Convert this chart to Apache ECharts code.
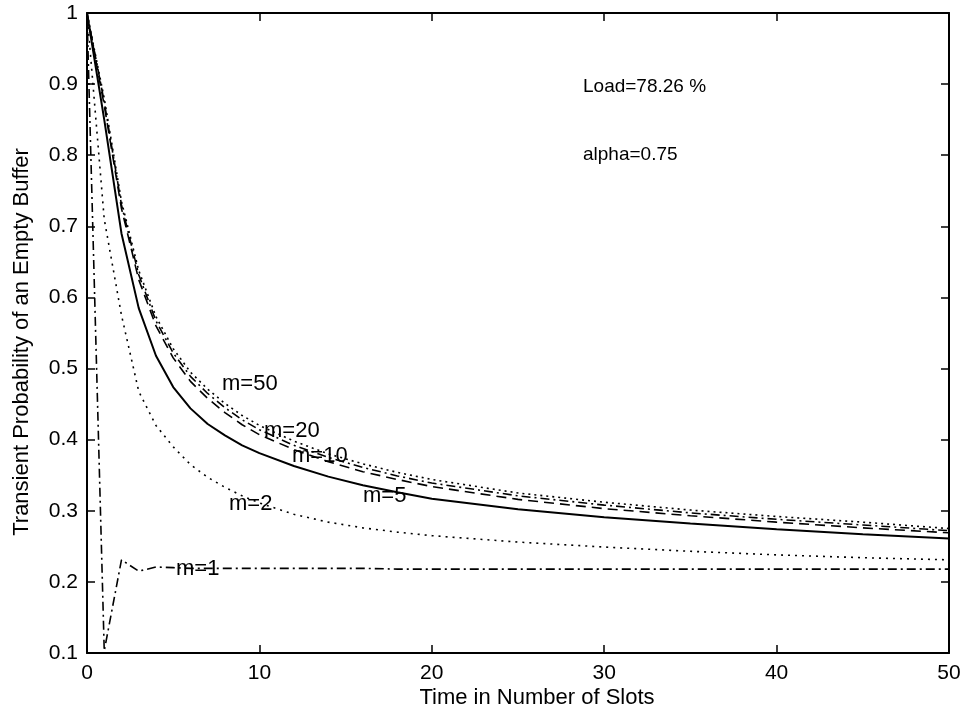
<!DOCTYPE html>
<html><head><meta charset="utf-8">
<script src="https://cdn.jsdelivr.net/npm/echarts@6/dist/echarts.min.js"></script>
<style>html,body{margin:0;padding:0;background:#fff}#c{width:979px;height:719px}</style>
</head><body><div id="c"></div>
<script>
// ---- data ----
const times = [0,1,2,3,4,5,6,7,8,9,10,12,14,16,18,20,25,30,35,40,45,50];
const m1  = [1,0.103,0.231,0.215,0.221,0.220,0.219,0.219,0.219,0.219,0.219,0.219,0.219,0.219,0.218,0.218,0.218,0.218,0.218,0.218,0.218,0.218];
const m2  = [1,0.710,0.575,0.468,0.420,0.390,0.365,0.347,0.333,0.321,0.311,0.295,0.284,0.276,0.270,0.265,0.256,0.249,0.243,0.238,0.234,0.231];
const m5  = [1,0.850,0.690,0.585,0.518,0.474,0.444,0.422,0.406,0.392,0.381,0.363,0.348,0.336,0.326,0.317,0.302,0.291,0.282,0.274,0.267,0.261];
const m10 = [1,0.870,0.725,0.625,0.560,0.515,0.482,0.458,0.438,0.421,0.407,0.386,0.369,0.355,0.344,0.334,0.316,0.303,0.293,0.284,0.276,0.269];
const m20 = [1,0.875,0.730,0.632,0.567,0.522,0.489,0.465,0.445,0.428,0.414,0.392,0.375,0.361,0.349,0.339,0.321,0.308,0.297,0.288,0.280,0.272];
const m50 = [1,0.880,0.735,0.638,0.573,0.528,0.495,0.471,0.451,0.434,0.420,0.398,0.380,0.366,0.354,0.344,0.325,0.312,0.301,0.292,0.284,0.275];
const seriesNames = ['m=1','m=2','m=5','m=10','m=20','m=50'];
const xLabelText = 'Time in Number of Slots';
const yLabelText = 'Transient Probability of an Empty Buffer';
const noteLoad = 'Load=78.26 %';
const noteAlpha = 'alpha=0.75';

const FONT = '"Liberation Sans", Arial, Helvetica, sans-serif';
const pairs = ys => times.map((t, i) => [t, ys[i]]);
const fmt = v => String(parseFloat(Number(v).toFixed(2)));

const axisLine = {show: true, onZero: false, lineStyle: {color: '#000', width: 2}};
const tick = {show: true, inside: true, length: 8, lineStyle: {color: '#000', width: 1.5}};

function line(name, ys, dash, width) {
  return {
    name, type: 'line', data: pairs(ys), symbol: 'none', smooth: false,
    lineStyle: {color: '#000', width: width || 1.6, type: dash},
    z: 3
  };
}

const chart = echarts.init(document.getElementById('c'), null, {renderer: 'canvas'});
chart.setOption({
  animation: false,
  backgroundColor: '#fff',
  grid: {left: 87, right: 30, top: 13, bottom: 66},
  xAxis: [
    {type: 'value', min: 0, max: 50, interval: 10, position: 'bottom',
     axisLine, axisTick: tick, splitLine: {show: false},
     axisLabel: {color: '#000', fontSize: 21, fontFamily: FONT, margin: 10, formatter: fmt}},
    {type: 'value', min: 0, max: 50, interval: 10, position: 'top',
     axisLine, axisTick: tick, splitLine: {show: false}, axisLabel: {show: false}}
  ],
  yAxis: [
    {type: 'value', min: 0.1, max: 1, interval: 0.1, position: 'left',
     axisLine, axisTick: tick, splitLine: {show: false},
     axisLabel: {color: '#000', fontSize: 21, fontFamily: FONT, margin: 9, formatter: fmt}},
    {type: 'value', min: 0.1, max: 1, interval: 0.1, position: 'right',
     axisLine, axisTick: tick, splitLine: {show: false}, axisLabel: {show: false}}
  ],
  series: [
    line(seriesNames[0], m1, [9, 4, 2, 4]),
    line(seriesNames[1], m2, [2, 5]),
    line(seriesNames[2], m5, 'solid', 2),
    line(seriesNames[3], m10, [10, 6]),
    line(seriesNames[4], m20, [9, 4, 2, 4]),
    line(seriesNames[5], m50, [2, 4])
  ],
  graphic: [
    {type: 'text', left: 222, top: 373, style: {text: seriesNames[5], font: '22px ' + FONT, fill: '#000'}},
    {type: 'text', left: 264, top: 420, style: {text: seriesNames[4], font: '22px ' + FONT, fill: '#000'}},
    {type: 'text', left: 292, top: 445, style: {text: seriesNames[3], font: '22px ' + FONT, fill: '#000'}},
    {type: 'text', left: 363, top: 485, style: {text: seriesNames[2], font: '22px ' + FONT, fill: '#000'}},
    {type: 'text', left: 229, top: 493, style: {text: seriesNames[1], font: '22px ' + FONT, fill: '#000'}},
    {type: 'text', left: 176, top: 558, style: {text: seriesNames[0], font: '22px ' + FONT, fill: '#000'}},
    {type: 'text', left: 583, top: 77, style: {text: noteLoad, font: '19px ' + FONT, fill: '#000'}},
    {type: 'text', left: 583, top: 145, style: {text: noteAlpha, font: '19px ' + FONT, fill: '#000'}},
    {type: 'text', x: 537, y: 698, style: {text: xLabelText, font: '22px ' + FONT, fill: '#000', align: 'center', verticalAlign: 'middle'}},
    {type: 'text', x: 22, y: 342, rotation: Math.PI / 2, style: {text: yLabelText, font: '22px ' + FONT, fill: '#000', align: 'center', verticalAlign: 'middle'}}
  ]
});
</script>
</body></html>
